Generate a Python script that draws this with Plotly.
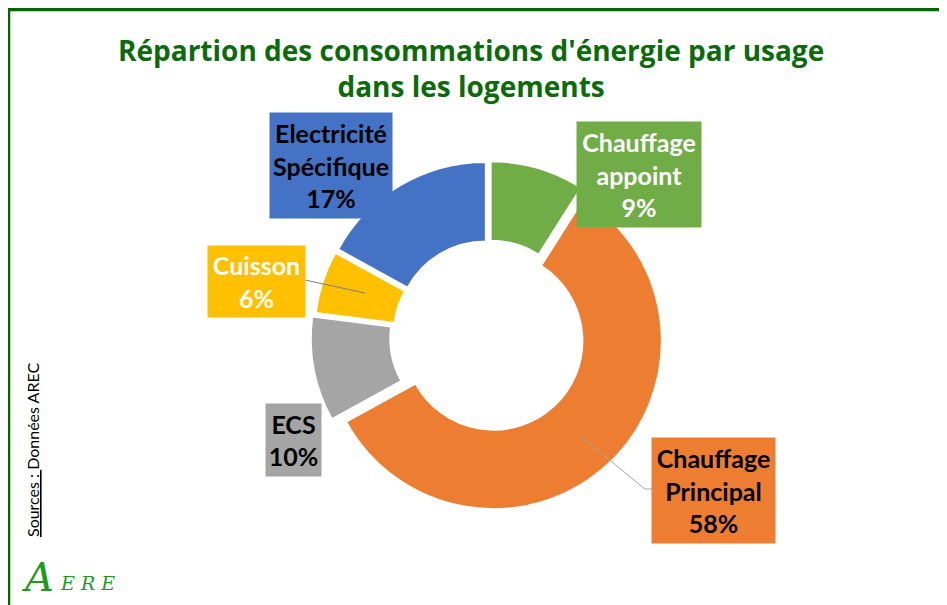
import plotly.graph_objects as go

# ---- data ----
labels = ["Chauffage appoint", "Chauffage Principal", "ECS", "Cuisson", "Electricité Spécifique"]
label_lines = [["Chauffage", "appoint"], ["Chauffage", "Principal"], ["ECS"], ["Cuisson"], ["Electricité", "Spécifique"]]
values = [9, 58, 10, 6, 17]
colors = ["#70AD47", "#ED7D31", "#A5A5A5", "#FFC000", "#4472C4"]
text_colors = ["white", "black", "black", "white", "black"]
title_text = "Répartion des consommations d'énergie par usage<br>dans les logements"
source_text = "<u>Sources : </u>Données AREC"

# page body has an 8px margin: the figure occupies the window from (8, 8)
OFF = 8
W, H = 947 - OFF, 605 - OFF

def px(x):
    return (x - OFF) / W

def py(y):
    return 1 - (y - OFF) / H

pulls = [0.04, 0.04, 0.06, 0.04, 0.04]
cx, cy, r0 = 489, 336, 168
half = r0 * (1 + max(pulls))

fig = go.Figure()
fig.add_trace(go.Pie(
    labels=labels, values=values, sort=False, direction="clockwise", rotation=0,
    hole=0.53, pull=pulls, textinfo="none",
    marker=dict(colors=colors, line=dict(color="white", width=1.5)),
    domain=dict(x=[px(cx - half), px(cx + half)], y=[py(cy + half), py(cy - half)]),
    showlegend=False,
))

# label boxes: (center x, center y, width, height) in window pixels
boxes = [
    (639, 174, 124, 105),
    (713, 490, 123, 105),
    (293, 440, 55, 72),
    (256, 281, 97, 71),
    (331, 165, 122, 105),
]
annotations = []
for i, lab in enumerate(labels):
    bx, by, bw, bh = boxes[i]
    txt = "<br>".join(label_lines[i] + [f"{values[i]}%"])
    annotations.append(dict(
        x=px(bx), y=py(by), xref="paper", yref="paper", showarrow=False,
        xanchor="center", yanchor="middle",
        text=f"<b>{txt}</b>", align="center", width=bw, height=bh, borderpad=0,
        bgcolor=colors[i], valign="middle",
        font=dict(family="Lato", size=25, color=text_colors[i]),
    ))

# title
annotations.append(dict(
    x=px(471), y=py(68), xref="paper", yref="paper", showarrow=False,
    xanchor="center", yanchor="middle",
    text=f"<b>{title_text}</b>", align="center",
    font=dict(family="Open Sans", size=28, color="#0B6B0B"),
))
# source vertical
annotations.append(dict(
    x=px(32), y=py(450), xref="paper", yref="paper", showarrow=False,
    xanchor="center", yanchor="middle",
    text=source_text, textangle=-90,
    font=dict(family="Lato", size=16, color="black"),
))
# AERE logo
annotations.append(dict(
    x=px(19), y=py(577), xref="paper", yref="paper", showarrow=False,
    xanchor="left", yanchor="middle",
    text="<i>A</i>",
    font=dict(family="DejaVu Serif", size=40, color="#1E9A1E"),
))
annotations.append(dict(
    x=px(58), y=py(583), xref="paper", yref="paper", showarrow=False,
    xanchor="left", yanchor="middle",
    text="<i>E R E</i>",
    font=dict(family="DejaVu Serif", size=19, color="#1E9A1E"),
))

shapes = [
    # frame
    dict(type="line", xref="paper", yref="paper", x0=px(7), x1=1.0, y0=py(9.5), y1=py(9.5),
         line=dict(color="#006600", width=3.5)),
    dict(type="line", xref="paper", yref="paper", x0=px(8.5), x1=px(8.5), y0=py(8), y1=0,
         line=dict(color="#006600", width=3.5)),
    # leader lines
    dict(type="path", xref="paper", yref="paper",
         path=f"M {px(305)} {py(280)} L {px(365)} {py(293)}",
         line=dict(color="#7F7F7F", width=1)),
    dict(type="path", xref="paper", yref="paper",
         path=f"M {px(652)} {py(489)} L {px(645)} {py(489)} L {px(579)} {py(435)}",
         line=dict(color="#A6A6A6", width=1)),
]

fig.update_layout(
    width=W, height=H, margin=dict(l=0, r=0, t=0, b=0),
    paper_bgcolor="white", plot_bgcolor="white",
    annotations=annotations, shapes=shapes,
)
fig.write_html("out.html")
